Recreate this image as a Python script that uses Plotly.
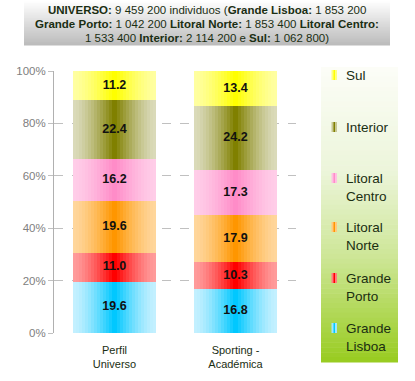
import plotly.graph_objects as go
import numpy as np

# ---------------- data ----------------
categories = ["Perfil<br>Universo", "Sporting -<br>Académica"]
series_names = ["Grande Lisboa", "Grande Porto", "Litoral Norte", "Litoral Centro", "Interior", "Sul"]
legend_labels = ["Grande<br>Lisboa", "Grande<br>Porto", "Litoral<br>Norte", "Litoral<br>Centro", "Interior", "Sul"]
grande_lisboa = [19.6, 16.8]
grande_porto = [11.0, 10.3]
litoral_norte = [19.6, 17.9]
litoral_centro = [16.2, 17.3]
interior = [22.4, 24.2]
sul = [11.2, 13.4]
y_ticks = [0, 20, 40, 60, 80, 100]
title_lines = [
    "<b>UNIVERSO:</b> 9 459 200 individuos (<b>Grande Lisboa:</b> 1 853 200",
    "<b>Grande Porto:</b> 1 042 200 <b>Litoral Norte:</b> 1 853 400 <b>Litoral Centro:</b>",
    "1 533 400 <b>Interior:</b> 2 114 200 e <b>Sul:</b> 1 062 800)",
]

series_values = [grande_lisboa, grande_porto, litoral_norte, litoral_centro, interior, sul]

# (center colour, edge colour)
palette = [
    ((0, 200, 255), (195, 240, 255)),
    ((255, 0, 0), (255, 155, 155)),
    ((255, 150, 0), (255, 214, 155)),
    ((255, 140, 200), (255, 205, 232)),
    ((128, 128, 0), (218, 218, 185)),
    ((255, 255, 0), (255, 255, 160)),
]

W, H = 415, 381
L, R, T, B = 54, 296, 71, 333
FONT = "Liberation Sans, Arial"


def px_x(x):
    return (x - L) / (R - L)


def px_y(y):
    return (B - y) / (B - T)


def mix(c1, c2, t):
    return "rgb(%d,%d,%d)" % tuple(round(a + (b - a) * t) for a, b in zip(c1, c2))


fig = go.Figure()

vals = np.array(series_values)
bases = np.vstack([np.zeros(vals.shape[1]), np.cumsum(vals, axis=0)[:-1]])

BAR_W = 0.68
N = 14
for k in range(N):
    w = BAR_W * (1 - k / N)
    t = (k / (N - 1)) ** 1.4
    for i, name in enumerate(series_names):
        center, edge = palette[i]
        fig.add_trace(go.Bar(
            x=categories, y=vals[i], base=bases[i], width=w,
            marker=dict(color=mix(edge, center, t), line=dict(width=0)),
            showlegend=False, hoverinfo="skip", name=name,
        ))

for i, name in enumerate(series_names):
    fig.add_trace(go.Scatter(
        x=categories, y=bases[i] + vals[i] / 2, mode="text",
        text=["<b>%.1f</b>" % v for v in vals[i]],
        textfont=dict(size=12.5, color="#111111", family=FONT),
        showlegend=False, hoverinfo="skip",
    ))

shapes = []
annotations = []

# title box gradient
tb_x0, tb_x1, tb_y0, tb_y1 = 24, 390, 0, 45
strips = 30
for s in range(strips):
    y0 = tb_y0 + (tb_y1 - tb_y0) * s / strips
    y1 = tb_y0 + (tb_y1 - tb_y0) * (s + 1) / strips
    t = (s / (strips - 1))
    shapes.append(dict(type="rect", xref="paper", yref="paper", layer="below",
                       x0=px_x(tb_x0), x1=px_x(tb_x1), y0=px_y(y0), y1=px_y(y1 + 0.5),
                       fillcolor=mix((255, 255, 255), (188, 188, 188), t), line=dict(width=0)))

for j, line in enumerate(title_lines):
    annotations.append(dict(xref="paper", yref="paper", x=px_x(207), y=px_y(10 + 14 * j),
                            text=line, showarrow=False, xanchor="center", yanchor="middle",
                            font=dict(size=11.5, color="#1a2e12", family=FONT)))

# legend box gradient
lb_x0, lb_x1, lb_y0, lb_y1 = 321, 398, 67, 362
stops = [(0.0, (252, 253, 247)), (0.35, (236, 245, 218)), (0.65, (205, 230, 150)), (1.0, (153, 204, 34))]
strips = 60
for s in range(strips):
    y0 = lb_y0 + (lb_y1 - lb_y0) * s / strips
    y1 = lb_y0 + (lb_y1 - lb_y0) * (s + 1) / strips
    f = s / (strips - 1)
    for a in range(len(stops) - 1):
        if stops[a][0] <= f <= stops[a + 1][0]:
            tt = (f - stops[a][0]) / (stops[a + 1][0] - stops[a][0])
            col = mix(stops[a][1], stops[a + 1][1], tt)
            break
    shapes.append(dict(type="rect", xref="paper", yref="paper", layer="below",
                       x0=px_x(lb_x0), x1=px_x(lb_x1), y0=px_y(y0), y1=px_y(y1 + 0.5),
                       fillcolor=col, line=dict(width=0)))

legend_y = [328, 278, 227, 178, 127, 75]
for i, lab in enumerate(legend_labels):
    center, edge = palette[i]
    yc = legend_y[i]
    shapes.append(dict(type="rect", xref="paper", yref="paper",
                       x0=px_x(331.5), x1=px_x(337), y0=px_y(yc - 5), y1=px_y(yc + 5),
                       fillcolor=mix(edge, center, 0.2), line=dict(width=0)))
    shapes.append(dict(type="rect", xref="paper", yref="paper",
                       x0=px_x(333.5), x1=px_x(335), y0=px_y(yc - 5), y1=px_y(yc + 5),
                       fillcolor=mix(edge, center, 1.0), line=dict(width=0)))
    annotations.append(dict(xref="paper", yref="paper", x=px_x(343.5), y=px_y(yc - 9),
                            text=lab, showarrow=False, xanchor="left", yanchor="top", align="left",
                            font=dict(size=13.5, color="#1a2e12", family=FONT)))

fig.update_layout(
    width=W, height=H,
    margin=dict(l=L, r=W - R, t=T, b=H - B, pad=0, autoexpand=False),
    barmode="overlay", bargap=0,
    paper_bgcolor="white", plot_bgcolor="white",
    showlegend=False, hovermode=False,
    shapes=shapes, annotations=annotations,
    xaxis=dict(type="category", showline=False, showgrid=False, zeroline=False,
               ticks="", ticklabelstandoff=9,
               tickfont=dict(size=11, color="#1a2e12", family=FONT),
               range=[-0.5, 1.5], fixedrange=True, automargin=False),
    yaxis=dict(range=[0, 100], tickvals=y_ticks, ticktext=["%d%%" % v for v in y_ticks],
               showline=True, linecolor="#b0b0b0", linewidth=1,
               showgrid=True, gridcolor="#c0c0c0", griddash="dash", gridwidth=1,
               zeroline=False, ticks="outside", ticklen=5, tickcolor="#c0c0c0",
               tickfont=dict(size=11.5, color="#808080", family=FONT),
               fixedrange=True, automargin=False),
)

fig.write_html("out.html",
               config={"displayModeBar": False, "staticPlot": True},
               post_script="document.body.style.margin='0';document.body.style.padding='0';")
